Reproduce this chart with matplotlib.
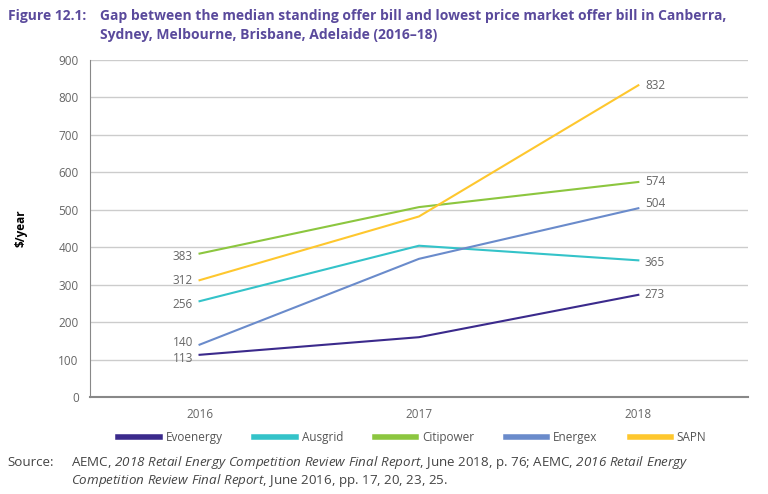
import matplotlib.pyplot as plt

years = ["2016", "2017", "2018"]
series = ["Evoenergy", "Ausgrid", "Citipower", "Energex", "SAPN"]
evoenergy = [113, 160, 273]
ausgrid = [256, 404, 365]
citipower = [383, 507, 574]
energex = [140, 369, 504]
sapn = [312, 482, 832]
colors = ["#3b2a8c", "#34c3c9", "#8cc63f", "#6a8bcb", "#fec72e"]

values = [evoenergy, ausgrid, citipower, energex, sapn]
# small vertical nudges for the end labels (in data units)
left_off = {"Evoenergy": -10, "Ausgrid": -8, "Citipower": -8, "Energex": 5, "SAPN": 0}
right_off = {"Evoenergy": 0, "Ausgrid": -5, "Citipower": 0, "Energex": 12, "SAPN": 0}

plt.rcParams['font.family'] = ['Open Sans', 'DejaVu Sans']
plt.rcParams['mathtext.fontset'] = 'custom'
plt.rcParams['mathtext.rm'] = 'Open Sans:italic'
plt.rcParams['mathtext.it'] = 'Open Sans:italic'
fig = plt.figure(figsize=(7.68, 4.94), dpi=100)
ax = fig.add_axes([0.117, 0.196, 0.857, 0.683])

x = list(range(len(years)))
for name, v, c in zip(series, values, colors):
    ax.plot(x, v, color=c, lw=1.5, label=name, zorder=3)
    ax.text(x[0] - 0.03, v[0] + left_off[name], str(v[0]), ha='right', va='center',
            fontsize=8.5, color='#666666')
    ax.text(x[-1] + 0.03, v[-1] + right_off[name], str(v[-1]), ha='left', va='center',
            fontsize=8.5, color='#666666')

ax.set_xlim(-0.5, 2.5)
ax.set_ylim(0, 900)
ax.set_yticks(range(0, 901, 100))
ax.set_xticks(x)
ax.set_xticklabels(years)
ax.grid(axis='y', color='#cccccc', lw=1)
ax.set_axisbelow(True)
for s in ['top', 'right']:
    ax.spines[s].set_visible(False)
ax.spines['left'].set_color('#888888')
ax.spines['bottom'].set_color('#888888')
ax.spines['bottom'].set_linewidth(1.5)
ax.tick_params(length=0, labelsize=8.5, colors='#666666', pad=8)
ax.set_ylabel('$/year', fontsize=8.5, fontweight='bold', labelpad=22)

ax.legend(loc='center', bbox_to_anchor=(0.49, -0.119), ncol=5, frameon=False,
          fontsize=8.5, handlelength=3.5, handleheight=0.5, handletextpad=0.5,
          columnspacing=2.7, labelcolor='#555555')
for h in ax.get_legend().get_lines():
    h.set_linewidth(4)

purple = '#5a4a9c'
fig.text(0.010, 0.968, 'Figure 12.1:', fontsize=10, fontweight='bold', color=purple, va='center')
fig.text(0.130, 0.968, 'Gap between the median standing offer bill and lowest price market offer bill in Canberra,',
         fontsize=10, fontweight='bold', color=purple, va='center')
fig.text(0.130, 0.930, 'Sydney, Melbourne, Brisbane, Adelaide (2016\u201318)',
         fontsize=10, fontweight='bold', color=purple, va='center')

fig.text(0.010, 0.064, 'Source:', fontsize=9.6, color='#444444', va='center')
fig.text(0.093, 0.064, 'AEMC, $2018\\ Retail\\ Energy\\ Competition\\ Review\\ Final\\ Report$, June 2018, p. 76; AEMC, $2016\\ Retail\\ Energy$',
         fontsize=9.6, color='#444444', va='center')
fig.text(0.093, 0.027, '$Competition\\ Review\\ Final\\ Report$, June 2016, pp. 17, 20, 23, 25.',
         fontsize=9.6, color='#444444', va='center')

fig.savefig('out.png', dpi=100)
